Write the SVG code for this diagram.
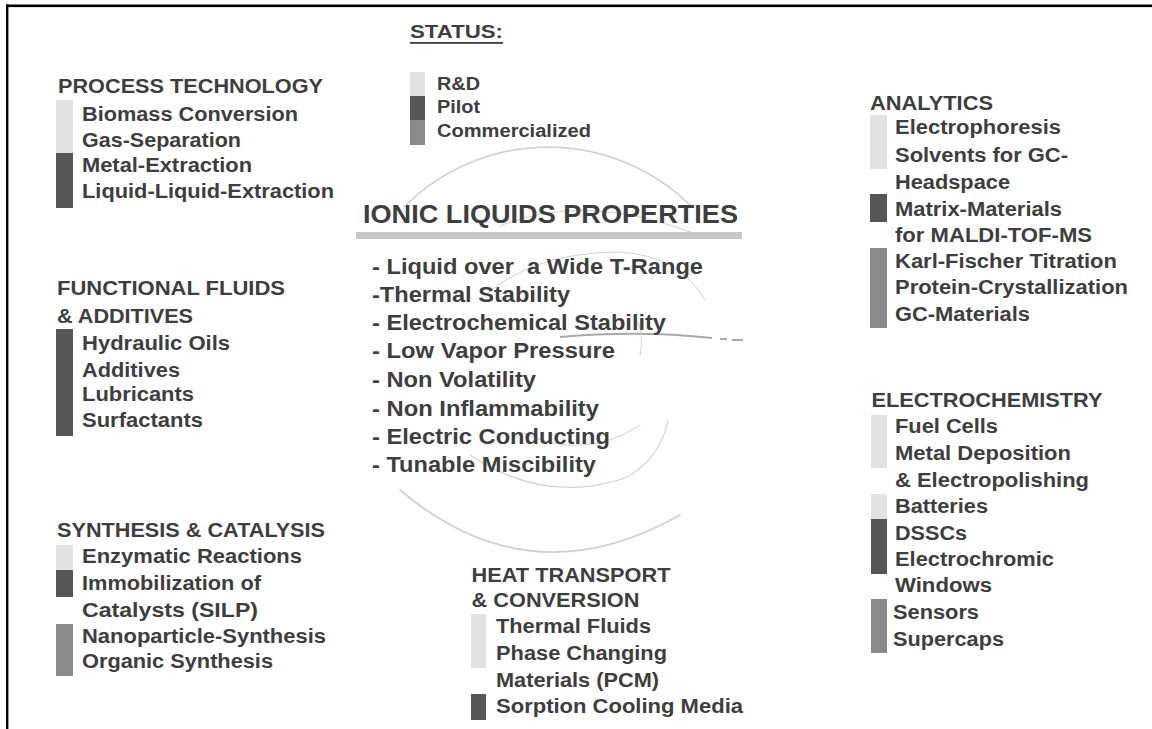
<svg xmlns="http://www.w3.org/2000/svg" width="1152" height="729" viewBox="0 0 1152 729">
<style>
text{font-family:"Liberation Sans",Arial,Helvetica,sans-serif;font-weight:bold;fill:#3e3e3e}
.h{font-size:20px}
.i{font-size:20px}
.p{font-size:22px}
.t{font-size:25px}
.s{font-size:18px}
.rd{fill:#e2e2e2}
.pi{fill:#565656}
.co{fill:#8a8a8a}
.sw{fill:none;stroke:#d0d0d0;stroke-linecap:round}
</style>
<rect x="0" y="0" width="1152" height="729" fill="#ffffff"/>
<g id="frame">
<rect x="6" y="4.5" width="1146" height="2.6" fill="#000"/>
<rect x="6" y="4.5" width="2.4" height="724.5" fill="#000"/>
</g>
<g id="swirl">
<path class="sw" d="M404,207 A203,203 0 0 1 692,207" stroke-width="1.6" stroke="#c0c0c0"/>
<path class="sw" d="M400,490 Q530,600 680,515" stroke-width="1.8" stroke="#c0c0c0"/>
<path class="sw" d="M500,226 Q590,190 705,238" stroke-width="1.1"/>
<path class="sw" d="M480,300 Q530,252 620,252 Q680,256 705,300" stroke-width="1"/>
<path d="M560,337 Q640,330 712,338" fill="none" stroke="#a8a8a8" stroke-width="1.8"/>
<path d="M720,339 L727,339 M732,340 L743,340" fill="none" stroke="#8a8a8a" stroke-width="1.6"/>
<path class="sw" d="M638,322 Q644,338 640,355" stroke-width="1"/>
<path class="sw" d="M470,455 Q545,505 625,478 Q660,460 668,420" stroke-width="1.2"/>
<path class="sw" d="M520,432 Q585,462 640,425" stroke-width="1"/>
</g>
<g id="status">
<text class="s" x="410" y="38" textLength="93" lengthAdjust="spacingAndGlyphs">STATUS:</text>
<rect x="410" y="42" width="93" height="1.8" fill="#3e3e3e"/>
<rect class="rd" x="410" y="72" width="15" height="24"/>
<rect class="pi" x="410" y="96" width="15" height="24"/>
<rect class="co" x="410" y="120" width="15" height="25"/>
<text class="s" x="437" y="90" textLength="43" lengthAdjust="spacingAndGlyphs">R&amp;D</text>
<text class="s" x="437" y="113" textLength="43" lengthAdjust="spacingAndGlyphs">Pilot</text>
<text class="s" x="437" y="137" textLength="154" lengthAdjust="spacingAndGlyphs">Commercialized</text>
</g>
<g id="process-technology">
<text class="h" x="58" y="93" textLength="265" lengthAdjust="spacingAndGlyphs">PROCESS TECHNOLOGY</text>
<rect class="rd" x="56" y="100" width="17" height="53"/>
<rect class="pi" x="56" y="153" width="17" height="55"/>
<text class="i" x="82" y="120.5" textLength="216" lengthAdjust="spacingAndGlyphs">Biomass Conversion</text>
<text class="i" x="82" y="147" textLength="159" lengthAdjust="spacingAndGlyphs">Gas-Separation</text>
<text class="i" x="82" y="172" textLength="170" lengthAdjust="spacingAndGlyphs">Metal-Extraction</text>
<text class="i" x="82" y="198" textLength="252" lengthAdjust="spacingAndGlyphs">Liquid-Liquid-Extraction</text>
</g>
<g id="functional-fluids">
<text class="h" x="57" y="295" textLength="228" lengthAdjust="spacingAndGlyphs">FUNCTIONAL FLUIDS</text>
<text class="h" x="57" y="322.5" textLength="136" lengthAdjust="spacingAndGlyphs">&amp; ADDITIVES</text>
<rect class="pi" x="56" y="329" width="17" height="107"/>
<text class="i" x="82" y="350" textLength="148" lengthAdjust="spacingAndGlyphs">Hydraulic Oils</text>
<text class="i" x="82" y="376.5" textLength="98" lengthAdjust="spacingAndGlyphs">Additives</text>
<text class="i" x="82" y="401" textLength="112" lengthAdjust="spacingAndGlyphs">Lubricants</text>
<text class="i" x="82" y="426.5" textLength="121" lengthAdjust="spacingAndGlyphs">Surfactants</text>
</g>
<g id="synthesis-catalysis">
<text class="h" x="57" y="536.5" textLength="268" lengthAdjust="spacingAndGlyphs">SYNTHESIS &amp; CATALYSIS</text>
<rect class="rd" x="56" y="545" width="17" height="25"/>
<rect class="pi" x="56" y="570" width="17" height="27"/>
<rect class="co" x="56" y="624" width="17" height="52"/>
<text class="i" x="82" y="563" textLength="220" lengthAdjust="spacingAndGlyphs">Enzymatic Reactions</text>
<text class="i" x="82" y="590" textLength="179" lengthAdjust="spacingAndGlyphs">Immobilization of</text>
<text class="i" x="82" y="616.5" textLength="176" lengthAdjust="spacingAndGlyphs">Catalysts (SILP)</text>
<text class="i" x="82" y="642.5" textLength="244" lengthAdjust="spacingAndGlyphs">Nanoparticle-Synthesis</text>
<text class="i" x="82" y="668" textLength="191" lengthAdjust="spacingAndGlyphs">Organic Synthesis</text>
</g>
<g id="properties">
<text class="t" x="363" y="223" textLength="375" lengthAdjust="spacingAndGlyphs">IONIC LIQUIDS PROPERTIES</text>
<rect x="356" y="232" width="386" height="7" fill="#c8c8c8"/>
<text class="p" x="372" y="274" textLength="331" lengthAdjust="spacingAndGlyphs" style="white-space:pre">- Liquid over  a Wide T-Range</text>
<text class="p" x="372" y="302" textLength="198" lengthAdjust="spacingAndGlyphs">-Thermal Stability</text>
<text class="p" x="372" y="330" textLength="294" lengthAdjust="spacingAndGlyphs">- Electrochemical Stability</text>
<text class="p" x="372" y="358" textLength="243" lengthAdjust="spacingAndGlyphs">- Low Vapor Pressure</text>
<text class="p" x="372" y="387" textLength="164" lengthAdjust="spacingAndGlyphs">- Non Volatility</text>
<text class="p" x="372" y="416" textLength="227" lengthAdjust="spacingAndGlyphs">- Non Inflammability</text>
<text class="p" x="372" y="444" textLength="238" lengthAdjust="spacingAndGlyphs">- Electric Conducting</text>
<text class="p" x="372" y="472" textLength="224" lengthAdjust="spacingAndGlyphs">- Tunable Miscibility</text>
</g>
<g id="heat-transport">
<text class="h" x="471.5" y="581.5" textLength="199" lengthAdjust="spacingAndGlyphs">HEAT TRANSPORT</text>
<text class="h" x="471.5" y="606.5" textLength="168" lengthAdjust="spacingAndGlyphs">&amp; CONVERSION</text>
<rect class="rd" x="471" y="614" width="15" height="54"/>
<rect class="pi" x="471" y="694" width="15" height="26"/>
<text class="i" x="496" y="633" textLength="155" lengthAdjust="spacingAndGlyphs">Thermal Fluids</text>
<text class="i" x="496" y="660" textLength="171" lengthAdjust="spacingAndGlyphs">Phase Changing</text>
<text class="i" x="496" y="686.5" textLength="163" lengthAdjust="spacingAndGlyphs">Materials (PCM)</text>
<text class="i" x="496" y="713" textLength="247" lengthAdjust="spacingAndGlyphs">Sorption Cooling Media</text>
</g>
<g id="analytics">
<text class="h" x="870" y="110" textLength="123" lengthAdjust="spacingAndGlyphs">ANALYTICS</text>
<rect class="rd" x="870" y="115" width="17" height="54"/>
<rect class="pi" x="870" y="194" width="17" height="28"/>
<rect class="co" x="870" y="248" width="17" height="80"/>
<text class="i" x="895" y="134" textLength="166" lengthAdjust="spacingAndGlyphs">Electrophoresis</text>
<text class="i" x="895" y="161.5" textLength="173" lengthAdjust="spacingAndGlyphs">Solvents for GC-</text>
<text class="i" x="895" y="189" textLength="115" lengthAdjust="spacingAndGlyphs">Headspace</text>
<text class="i" x="895" y="216" textLength="167" lengthAdjust="spacingAndGlyphs">Matrix-Materials</text>
<text class="i" x="895" y="241.5" textLength="197" lengthAdjust="spacingAndGlyphs">for MALDI-TOF-MS</text>
<text class="i" x="895" y="268" textLength="222" lengthAdjust="spacingAndGlyphs">Karl-Fischer Titration</text>
<text class="i" x="895" y="293.5" textLength="233" lengthAdjust="spacingAndGlyphs">Protein-Crystallization</text>
<text class="i" x="895" y="320.5" textLength="135" lengthAdjust="spacingAndGlyphs">GC-Materials</text>
</g>
<g id="electrochemistry">
<text class="h" x="871.5" y="406.5" textLength="231" lengthAdjust="spacingAndGlyphs">ELECTROCHEMISTRY</text>
<rect class="rd" x="871" y="415" width="16" height="53"/>
<rect class="rd" x="871" y="494" width="16" height="25"/>
<rect class="pi" x="871" y="519" width="16" height="55"/>
<rect class="co" x="871" y="599" width="16" height="54"/>
<text class="i" x="895" y="433" textLength="103" lengthAdjust="spacingAndGlyphs">Fuel Cells</text>
<text class="i" x="895" y="460" textLength="176" lengthAdjust="spacingAndGlyphs">Metal Deposition</text>
<text class="i" x="895" y="486.5" textLength="194" lengthAdjust="spacingAndGlyphs">&amp; Electropolishing</text>
<text class="i" x="895" y="513" textLength="93" lengthAdjust="spacingAndGlyphs">Batteries</text>
<text class="i" x="895" y="540" textLength="72" lengthAdjust="spacingAndGlyphs">DSSCs</text>
<text class="i" x="895" y="566" textLength="159" lengthAdjust="spacingAndGlyphs">Electrochromic</text>
<text class="i" x="895" y="592" textLength="97" lengthAdjust="spacingAndGlyphs">Windows</text>
<text class="i" x="893" y="619" textLength="86" lengthAdjust="spacingAndGlyphs">Sensors</text>
<text class="i" x="893" y="646" textLength="111" lengthAdjust="spacingAndGlyphs">Supercaps</text>
</g>
</svg>
